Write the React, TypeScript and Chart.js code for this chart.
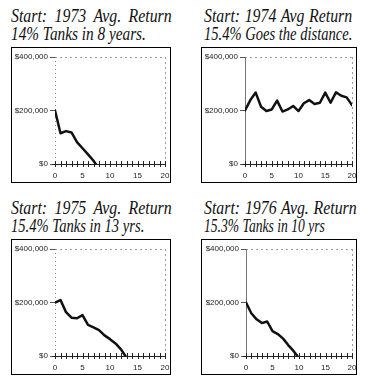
import React, { useEffect, useLayoutEffect, useRef } from 'react';
import { Chart, registerables } from 'chart.js';

Chart.register(...registerables);

// ---- Data (values in dollars, x in years) ----
const years1973 = [0, 1, 2, 3, 4, 5, 6, 7, 7.4];
const values1973 = [200000, 115000, 123000, 118000, 82000, 59000, 36000, 12000, 0];

const years1974 = [0, 1, 2, 3, 4, 5, 6, 7, 8, 9, 10, 11, 12, 13, 14, 15, 16, 17, 18, 19, 20];
const values1974 = [200000, 239000, 267000, 214000, 198000, 204000, 237000, 196000, 204000, 217000, 198000, 227000, 239000, 224000, 229000, 267000, 229000, 268000, 255000, 249000, 220000];

const years1975 = [0, 1, 2, 3, 4, 5, 6, 7, 8, 9, 10, 11, 12, 12.8];
const values1975 = [200000, 209000, 164000, 143000, 141000, 153000, 116000, 107000, 97000, 77000, 63000, 47000, 25000, 0];

const years1976 = [0, 1, 2, 3, 4, 5, 6, 7, 8, 9, 9.7];
const values1976 = [200000, 160000, 137000, 123000, 129000, 93000, 82000, 65000, 40000, 18000, 0];

const xTickLabels = [0, 5, 10, 15, 20];
const yTickValues = [0, 200000, 400000];
const xMinorTicks = [0, 1, 2, 3, 4, 5, 6, 7, 8, 9, 10, 11, 12, 13, 14, 15, 16, 17, 18, 19, 20];

const titles1973 = ['Start: 1973 Avg. Return', '14% Tanks in 8 years.'];
const titles1974 = ['Start: 1974 Avg Return', '15.4% Goes the distance.'];
const titles1975 = ['Start: 1975 Avg. Return', '15.4% Tanks in 13 yrs.'];
const titles1976 = ['Start: 1976 Avg. Return', '15.3% Tanks in 10 yrs'];

const tickFont = { family: '"Liberation Sans", Arial, sans-serif', size: 8 };

function TitleLine({ text, width }: { text: string; width: number }) {
  const ref = useRef<HTMLSpanElement | null>(null);
  useLayoutEffect(() => {
    const el = ref.current;
    if (!el) return;
    el.style.wordSpacing = '0px';
    el.style.transform = 'none';
    const natural = el.offsetWidth;
    const n = (text.match(/ /g) || []).length;
    let s = 0.88;
    let ws = n ? (width / s - natural) / n : 0;
    if (ws < 0) {
      ws = 0;
      s = width / natural;
    }
    el.style.wordSpacing = ws + 'px';
    el.style.transform = `scaleX(${s})`;
  }, [text, width]);
  return (
    <div style={{ height: 18 }}>
      <span ref={ref} style={{ display: 'inline-block', whiteSpace: 'nowrap', transformOrigin: '0 0' }}>
        {text}
      </span>
    </div>
  );
}

type PanelProps = {
  titleLines: string[];
  titleWidths: number[];
  titleX: number;
  titleY: number;
  boxX: number;
  boxY: number;
  boxW: number;
  boxH: number;
  years: number[];
  values: number[];
  dottedAxis: boolean;
  axisLeft: number;
  padTop: number;
  padRight: number;
};

function Panel(p: PanelProps) {
  const ref = useRef<HTMLCanvasElement | null>(null);

  useEffect(() => {
    if (!ref.current) return;
    const frame = {
      id: 'frame',
      beforeDatasetsDraw(chart: any) {
        const ctx = chart.ctx;
        const xs = chart.scales.x;
        const ys = chart.scales.y;
        const l = xs.getPixelForValue(0);
        const r = xs.getPixelForValue(20);
        const t = ys.getPixelForValue(400000);
        const b = ys.getPixelForValue(0);
        ctx.save();
        ctx.strokeStyle = '#9a9a9a';
        ctx.lineWidth = 1;
        ctx.setLineDash([2, 3]);
        ctx.beginPath();
        ctx.moveTo(l, Math.round(t) + 0.5);
        ctx.lineTo(r, Math.round(t) + 0.5);
        ctx.moveTo(Math.round(r) + 0.5, t);
        ctx.lineTo(Math.round(r) + 0.5, b);
        ctx.stroke();
        if (p.dottedAxis) {
          ctx.setLineDash([1, 3]);
          ctx.strokeStyle = '#888';
        } else {
          ctx.setLineDash([]);
          ctx.strokeStyle = '#777';
        }
        ctx.beginPath();
        ctx.moveTo(Math.round(l) + 0.5, t);
        ctx.lineTo(Math.round(l) + 0.5, b);
        ctx.stroke();
        ctx.setLineDash([]);
        ctx.strokeStyle = '#222';
        ctx.beginPath();
        ctx.moveTo(l - 3, Math.round(b) + 0.5);
        ctx.lineTo(r, Math.round(b) + 0.5);
        ctx.stroke();
        ctx.beginPath();
        for (const v of xMinorTicks) {
          const px = Math.round(xs.getPixelForValue(v)) + 0.5;
          ctx.moveTo(px, b - 3);
          ctx.lineTo(px, b + 3);
        }
        ctx.stroke();
        ctx.restore();
      },
    };

    const chart = new Chart(ref.current, {
      type: 'line',
      data: {
        datasets: [
          {
            data: p.years.map((yr, i) => ({ x: yr, y: p.values[i] })),
            borderColor: '#111',
            borderWidth: 2.5,
            pointRadius: 0,
            tension: 0,
            fill: false,
            borderJoinStyle: 'round',
            borderCapStyle: 'round',
          } as any,
        ],
      },
      options: {
        animation: false,
        responsive: false,
        maintainAspectRatio: false,
        devicePixelRatio: 1,
        plugins: { legend: { display: false }, tooltip: { enabled: false } },
        layout: { padding: { top: p.padTop, right: p.padRight, left: 0, bottom: 0 } },
        scales: {
          x: {
            type: 'linear',
            min: 0,
            max: 20,
            afterBuildTicks: (s: any) => {
              s.ticks = xTickLabels.map((v) => ({ value: v }));
            },
            ticks: {
              font: tickFont,
              color: '#222',
              padding: 7,
              maxRotation: 0,
              autoSkip: false,
              callback: (v: any) => String(v),
            },
            grid: { display: false, drawTicks: false },
            border: { display: false },
            afterFit: (s: any) => {
              s.height = 18;
              s.paddingLeft = 0;
              s.paddingRight = 0;
            },
          },
          y: {
            type: 'linear',
            min: 0,
            max: 400000,
            afterBuildTicks: (s: any) => {
              s.ticks = yTickValues.map((v) => ({ value: v }));
            },
            ticks: {
              font: tickFont,
              color: '#222',
              padding: 2,
              callback: (v: any) => '$' + Number(v).toLocaleString('en-US'),
            },
            grid: { drawOnChartArea: false, drawTicks: true, tickLength: 5, color: '#555', tickColor: '#555' },
            border: { display: false },
            afterFit: (s: any) => {
              s.width = p.axisLeft;
              s.paddingTop = 0;
              s.paddingBottom = 0;
            },
          },
        },
      },
      plugins: [frame],
    });
    return () => chart.destroy();
  }, []);

  return (
    <>
      <div
        style={{
          position: 'absolute',
          left: p.titleX,
          top: p.titleY,
          fontFamily: "'Liberation Serif', 'Times New Roman', serif",
          fontStyle: 'italic',
          fontSize: 18,
          lineHeight: '18px',
          color: '#111',
        }}
      >
        {p.titleLines.map((t, i) => (
          <TitleLine key={i} text={t} width={p.titleWidths[i]} />
        ))}
      </div>
      <div
        style={{
          position: 'absolute',
          left: p.boxX,
          top: p.boxY,
          width: p.boxW - 2,
          height: p.boxH - 2,
          border: '1px solid #000',
          background: '#fff',
        }}
      >
        <canvas ref={ref} width={p.boxW - 2} height={p.boxH - 2} style={{ display: 'block' }} />
      </div>
    </>
  );
}

export default function App() {
  return (
    <div style={{ position: 'absolute', left: 0, top: 0, width: 369, height: 383, background: '#fff' }}>
      <Panel titleLines={titles1973} titleWidths={[161, 135]} titleX={11} titleY={7} boxX={11} boxY={47} boxW={160} boxH={136}
        years={years1973} values={values1973} dottedAxis={true} axisLeft={43} padTop={9} padRight={5} />
      <Panel titleLines={titles1974} titleWidths={[148, 148]} titleX={204} titleY={7} boxX={201} boxY={47} boxW={156} boxH={136}
        years={years1974} values={values1974} dottedAxis={false} axisLeft={43} padTop={9} padRight={4} />
      <Panel titleLines={titles1975} titleWidths={[161, 133]} titleX={11} titleY={199} boxX={11} boxY={239} boxW={160} boxH={136}
        years={years1975} values={values1975} dottedAxis={true} axisLeft={43} padTop={9} padRight={5} />
      <Panel titleLines={titles1976} titleWidths={[153, 121]} titleX={204} titleY={199} boxX={201} boxY={239} boxW={156} boxH={136}
        years={years1976} values={values1976} dottedAxis={false} axisLeft={44} padTop={9} padRight={4} />
    </div>
  );
}
